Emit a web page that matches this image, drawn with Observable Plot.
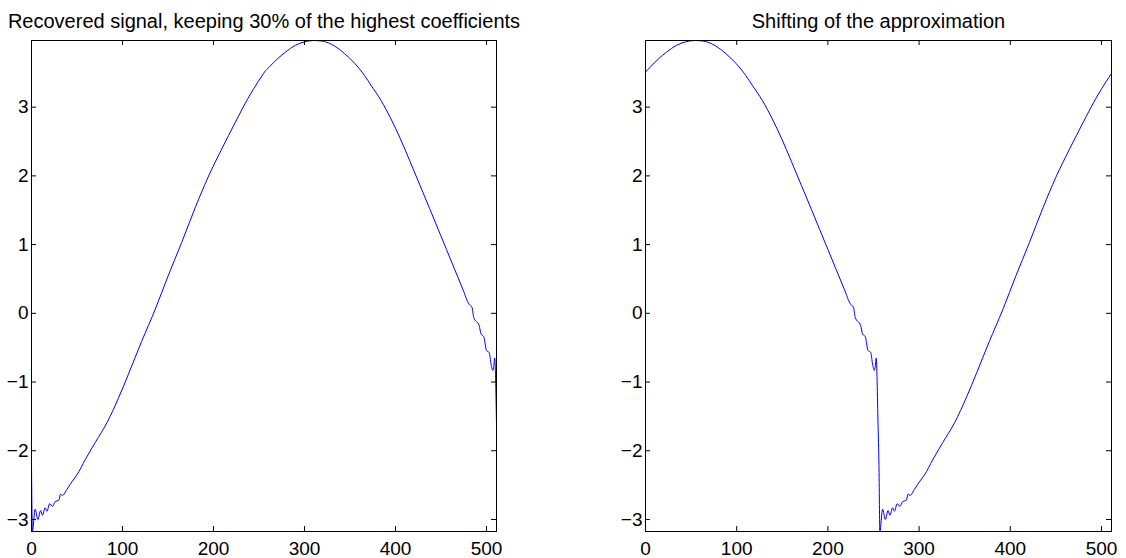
<!DOCTYPE html>
<html>
<head>
<meta charset="utf-8">
<script src="https://cdn.jsdelivr.net/npm/d3@7"></script>
<script src="https://cdn.jsdelivr.net/npm/@observablehq/plot@0.6"></script>
<style>
  html, body { margin: 0; padding: 0; background: #fff; }
  #wrap { position: relative; width: 1126px; height: 558px; overflow: hidden; }
  #wrap svg { position: absolute; top: 0; overflow: visible; }
</style>
</head>
<body>
<div id="wrap"></div>
<script>
// ---- data ----
const titles = ["Recovered signal, keeping 30% of the highest coefficients", "Shifting of the approximation"];
const sampleIdx = [0, 1, 4, 7, 10, 12, 15, 17, 20, 23, 26, 30, 32, 34, 39, 45, 50, 59, 70, 83, 96, 107, 121, 136, 150, 165, 180, 194, 209, 224, 238, 249, 255, 256, 261, 270, 279, 290, 300, 310, 320, 333, 344, 355, 366, 373, 384, 395, 405, 416, 427, 438, 447, 456, 465, 474, 481, 484, 486, 492, 494, 497, 500, 503, 505, 507, 508, 509, 511];
const recovered = [-2.20, -3.17, -2.85, -3.00, -2.87, -2.94, -2.83, -2.88, -2.77, -2.81, -2.74, -2.72, -2.63, -2.65, -2.56, -2.44, -2.35, -2.13, -1.88, -1.59, -1.22, -0.87, -0.41, 0.06, 0.54, 1.03, 1.54, 1.98, 2.39, 2.78, 3.13, 3.37, 3.49, 3.51, 3.58, 3.70, 3.80, 3.90, 3.95, 3.97, 3.96, 3.89, 3.78, 3.64, 3.46, 3.32, 3.10, 2.83, 2.55, 2.21, 1.86, 1.51, 1.22, 0.93, 0.64, 0.35, 0.13, 0.09, -0.06, -0.18, -0.30, -0.34, -0.54, -0.57, -0.74, -0.83, -0.77, -0.65, -1.61];
const signalLength = 512;
const shiftBy = 256;
const xTicks = [0, 100, 200, 300, 400, 500];
const yTicks = [-3, -2, -1, 0, 1, 2, 3];
const xDomain = [0, 511];
const yDomain = [-3.175, 3.97];

const leftData = sampleIdx.map((x, i) => ({x, y: recovered[i]}));
const rightData = leftData
  .map(d => ({x: (d.x + shiftBy) % signalLength, y: d.y}))
  .sort((a, b) => a.x - b.x);

const font = "'Liberation Sans', Arial, Helvetica, sans-serif";
const intFmt = d3.format("d");

function panel(data, title, ml, mr, left) {
  const W = 563, H = 558, mt = 40, mb = 27;
  const innerH = H - mt - mb, innerW = W - ml - mr;
  const svg = Plot.plot({
    width: W, height: H,
    marginLeft: ml, marginRight: mr, marginTop: mt, marginBottom: mb,
    style: {fontFamily: font, background: "transparent", color: "#000", overflow: "visible"},
    x: {domain: xDomain, axis: null, label: null},
    y: {domain: yDomain, axis: null, label: null},
    marks: [
      Plot.line(data, {x: "x", y: "y", stroke: "#0000ff", strokeWidth: 1, curve: "monotone-x"}),
      // inward ticks on all four sides
      Plot.tickX(xTicks, {x: d => d, stroke: "#000", insetTop: innerH - 5}),
      Plot.tickX(xTicks, {x: d => d, stroke: "#000", insetBottom: innerH - 5}),
      Plot.tickY(yTicks, {y: d => d, stroke: "#000", insetRight: innerW - 5}),
      Plot.tickY(yTicks, {y: d => d, stroke: "#000", insetLeft: innerW - 5}),
      Plot.frame({stroke: "#000", strokeWidth: 1}),
      Plot.axisX(xTicks, {anchor: "bottom", label: null, tickSize: 0, tickPadding: 10, fontSize: 19, tickFormat: intFmt}),
      Plot.axisY(yTicks, {anchor: "left", label: null, tickSize: 0, tickPadding: 3, fontSize: 19, tickFormat: intFmt}),
      Plot.text([title], {frameAnchor: "top", dy: -13, lineAnchor: "bottom", fontSize: 20, fill: "#000"})
    ]
  });
  svg.style.left = left + "px";
  return svg;
}

const wrap = document.getElementById("wrap");
wrap.appendChild(panel(leftData, titles[0], 31, 67, 0));
wrap.appendChild(panel(rightData, titles[1], 82, 15, 563));
</script>
</body>
</html>
